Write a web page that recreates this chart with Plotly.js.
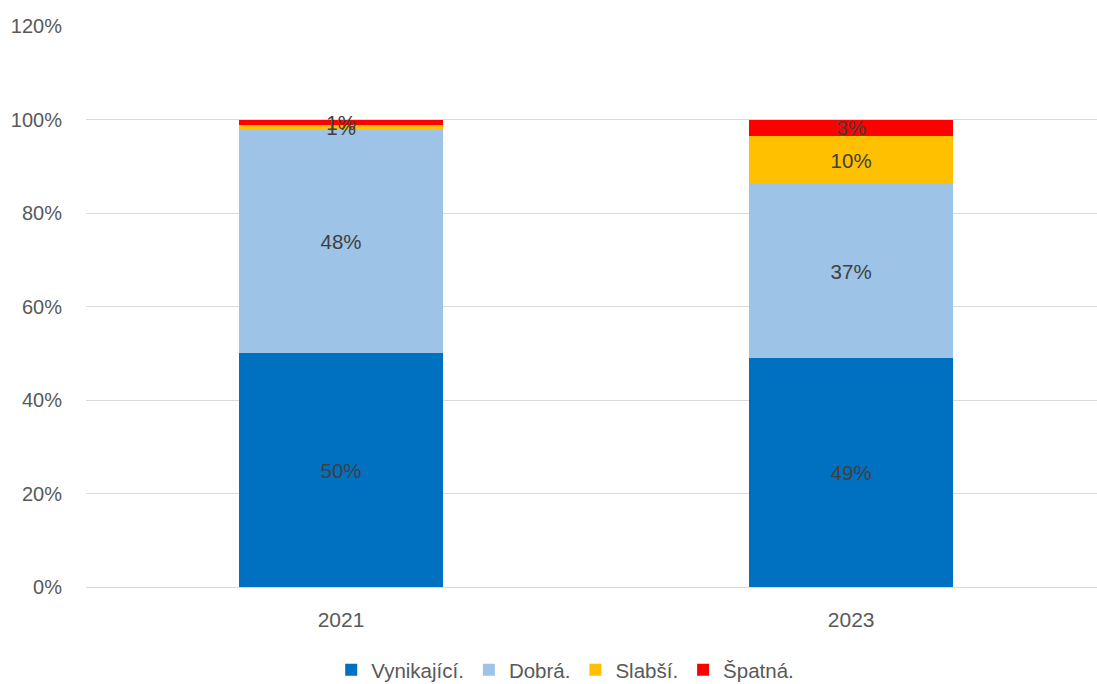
<!DOCTYPE html>
<html>
<head>
<meta charset="utf-8">
<script src="https://cdn.plot.ly/plotly-3.0.1.min.js"></script>
<style>html,body{margin:0;padding:0;background:#fff}#chart{width:1097px;height:684px}</style>
</head>
<body>
<div id="chart"></div>
<script>
const years = ["2021", "2023"];
const seriesNames = ["Vynikající.", "Dobrá.", "Slabší.", "Špatná."];
const vynikajici = [0.500, 0.489];
const dobra = [0.477, 0.372];
const slabsi = [0.0115, 0.1045];
const spatna = [0.0115, 0.0345];
const colors = ["#0070C0", "#9DC3E6", "#FFC000", "#FF0000"];
const yTicks = [0, 0.2, 0.4, 0.6, 0.8, 1.0, 1.2];

const allValues = [vynikajici, dobra, slabsi, spatna];
const FONT = "Liberation Sans, Arial, sans-serif";

const traces = allValues.map((vals, i) => ({
  type: "bar",
  name: seriesNames[i],
  x: years,
  y: vals,
  marker: {color: colors[i], line: {width: 0}},
  text: vals.map(v => Math.round(v * 100) + "%"),
  textposition: "inside",
  insidetextanchor: "middle",
  constraintext: "none",
  textangle: 0,
  textfont: {family: FONT, size: 20.5, color: "#404040"},
  hoverinfo: "skip",
  cliponaxis: false
}));

const layout = {
  width: 1097,
  height: 684,
  margin: {l: 86, r: 0, t: 26, b: 97, autoexpand: false},
  paper_bgcolor: "#fff",
  plot_bgcolor: "#fff",
  barmode: "stack",
  bargap: 0.6,
  font: {family: FONT, size: 20, color: "#595959"},
  xaxis: {
    type: "category",
    range: [-0.5, 1.482],
    showgrid: false,
    zeroline: false,
    showline: false,
    ticks: "outside",
    ticklen: 14,
    tickcolor: "rgba(0,0,0,0)",
    tickfont: {family: FONT, size: 21, color: "#595959"}
  },
  yaxis: {
    range: [0, 1.2],
    tickvals: yTicks,
    ticktext: yTicks.map(v => Math.round(v * 100) + "%"),
    showgrid: true,
    gridcolor: "#D9D9D9",
    gridwidth: 1,
    zeroline: true,
    zerolinecolor: "#D9D9D9",
    zerolinewidth: 1,
    showline: false,
    ticks: "outside",
    ticklen: 19,
    tickcolor: "rgba(0,0,0,0)",
    tickfont: {family: FONT, size: 20, color: "#595959"}
  },
  legend: {
    orientation: "h",
    x: 0.474,
    xanchor: "center",
    y: -0.148,
    yanchor: "middle",
    font: {family: FONT, size: 20.5, color: "#595959"},
    traceorder: "normal",
    itemwidth: 30
  },
  showlegend: true
};

Plotly.newPlot("chart", traces, layout, {displayModeBar: false, staticPlot: true});
</script>
</body>
</html>
